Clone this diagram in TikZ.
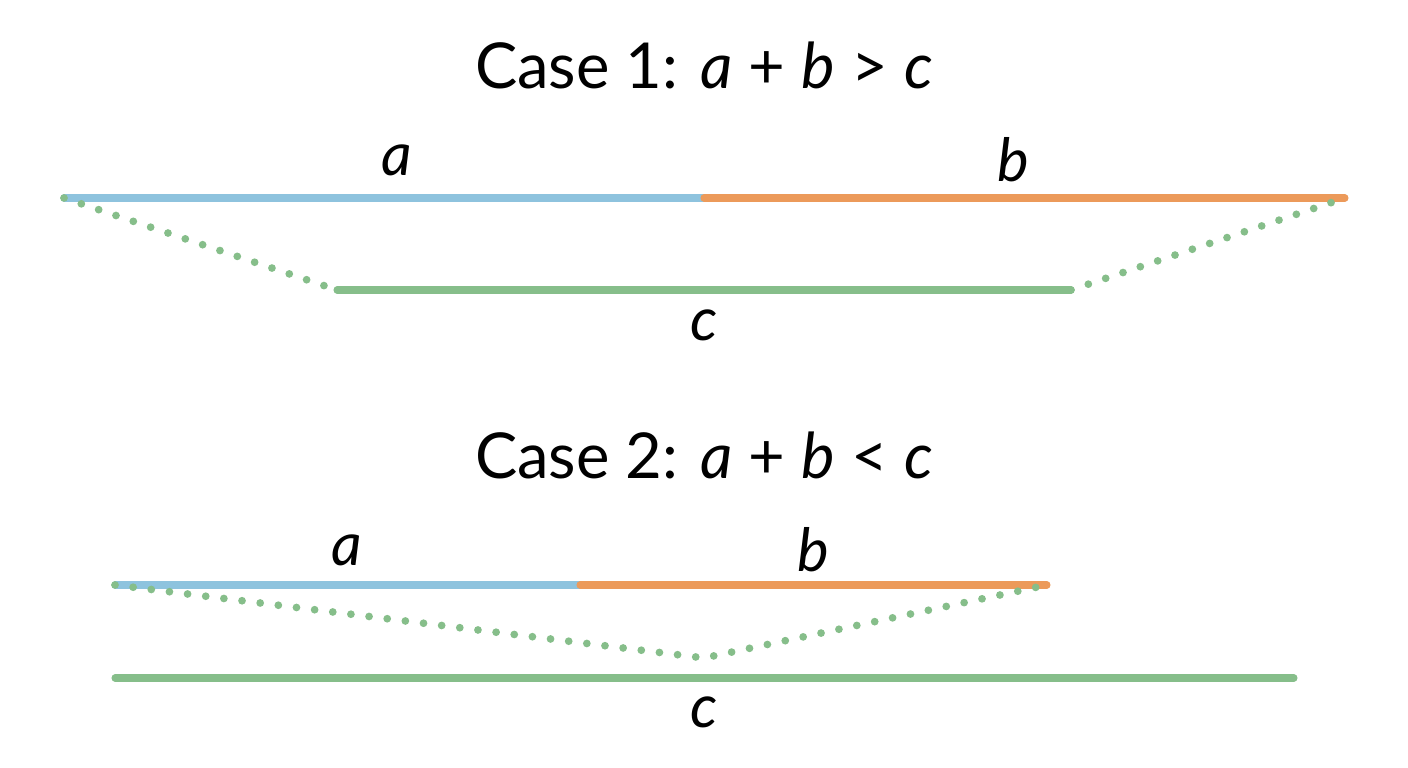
\documentclass[tikz,border=0pt]{standalone}
\usepackage{fontspec}
\setmainfont{Lato}
\definecolor{side a}{HTML}{8EC3DE}
\definecolor{side b}{HTML}{EC9A5A}
\definecolor{side c}{HTML}{86BE8A}
\begin{document}
\begin{tikzpicture}[x=0.01cm, y=-0.01cm,
		seg/.style = {line width=2pt, line cap=round},
		gap/.style = {side c, line width=2.2pt, line cap=round, dash pattern=on 0pt off 5.2pt},
		title/.style = {font=\fontsize{18}{20}\selectfont},
		lbl/.style = {font=\fontsize{17}{19}\selectfont\itshape}]
		\useasboundingbox (0, 0) rectangle (1408, 768);
		% case 1
		\node[title] (t1) at (704, 65) {Case 1: \textit{a} + \textit{b} > \textit{c}};
		\coordinate (a1) at (64, 198);
		\coordinate (m1) at (704, 198);
		\coordinate (b1) at (1345, 198);
		\coordinate (c1l) at (337, 290);
		\coordinate (c1r) at (1071, 290);
		\draw[seg, side a] (a1) -- (m1);
		\draw[seg, side b] (m1) -- (b1);
		\draw[seg, side c] (c1l) -- (c1r);
		\draw[gap] (a1) -- (c1l);
		\draw[gap] (c1r) -- (b1);
		\node[lbl] (la1) at (397, 160) {a};
		\node[lbl] (lb1) at (1013, 160) {b};
		\node[lbl] (lc1) at (704, 325) {c};
		% case 2
		\node[title] (t2) at (704, 455) {Case 2: \textit{a} + \textit{b} < \textit{c}};
		\coordinate (a2) at (115, 585);
		\coordinate (m2) at (580, 585);
		\coordinate (b2) at (1047, 585);
		\coordinate (v2) at (704, 658);
		\coordinate (c2l) at (115, 678);
		\coordinate (c2r) at (1294, 678);
		\draw[seg, side a] (a2) -- (m2);
		\draw[seg, side b] (m2) -- (b2);
		\draw[seg, side c] (c2l) -- (c2r);
		\draw[gap] (a2) -- (v2) -- (b2);
		\node[lbl] (la2) at (347, 550) {a};
		\node[lbl] (lb2) at (813, 550) {b};
		\node[lbl] (lc2) at (704, 712) {c};
\end{tikzpicture}
\end{document}
